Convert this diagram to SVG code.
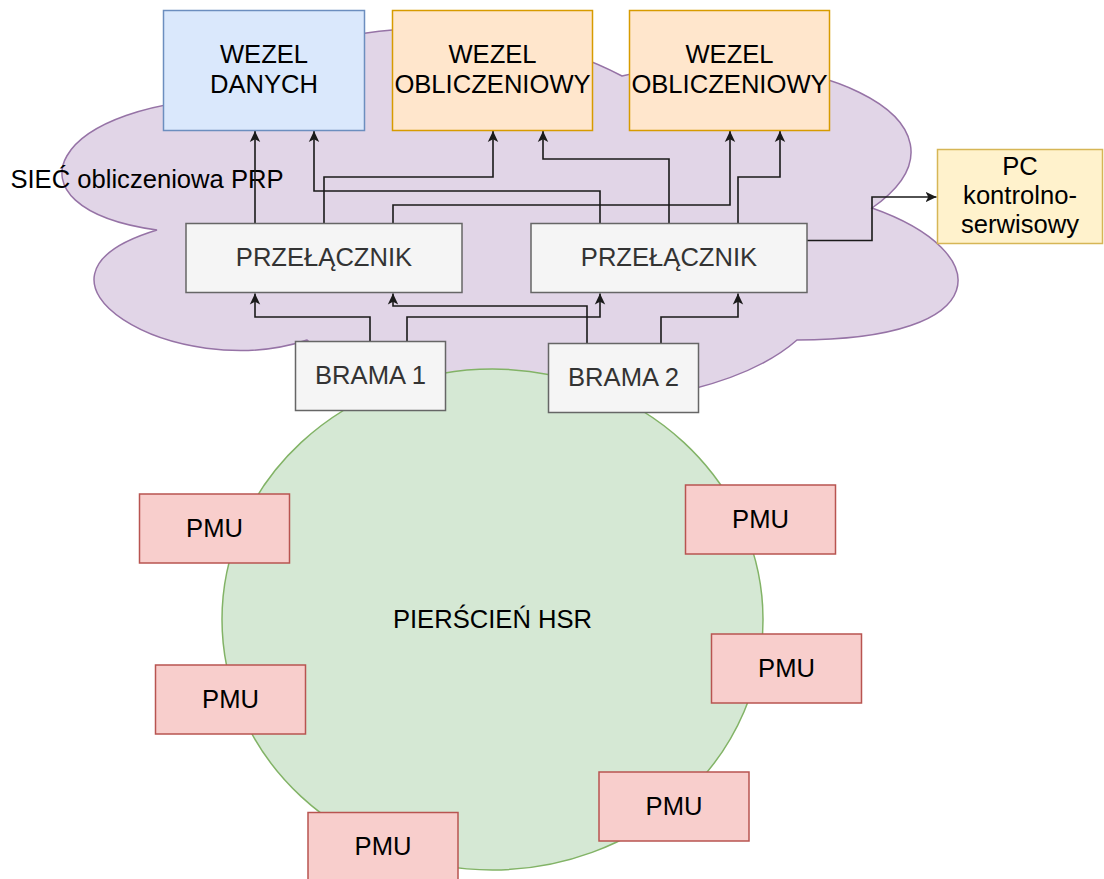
<svg xmlns="http://www.w3.org/2000/svg" width="1104" height="879" viewBox="0 0 1104 879">
  <style>
    text { font-family: "Liberation Sans", Arial, sans-serif; font-size: 25.6px; text-anchor: middle; fill: #000000; }
    .gray text { fill: #333333; }
    .data { fill: #dae8fc; stroke: #6c8ebf; stroke-width: 1.5; }
    .comp { fill: #ffe6cc; stroke: #d79b00; stroke-width: 1.5; }
    .pc { fill: #fff2cc; stroke: #d6b656; stroke-width: 1.5; }
    .sw { fill: #f5f5f5; stroke: #666666; stroke-width: 1.5; }
    .pmu { fill: #f8cecc; stroke: #b85450; stroke-width: 1.5; }
    .edge { fill: none; stroke: #1a1a1a; stroke-width: 1.6; marker-end: url(#arrow); }
  </style>
  <defs>
    <marker id="arrow" viewBox="0 0 12 12" refX="11" refY="6" markerWidth="12" markerHeight="12" markerUnits="userSpaceOnUse" orient="auto">
      <path d="M11,6 L0,0.8 L2.8,6 L0,11.2 Z" fill="#1a1a1a"/>
    </marker>
  </defs>

  <rect width="1104" height="879" fill="#ffffff"/>

  <!-- PRP network cloud -->
  <g id="cloud">
    <path d="M247,98 C47,98 -3,208 157,230 C-3,278.4 177,384 307,340 C397,428 697,428 797,340 C997,340 997,252 872,208 C997,120 797,32 622,76 C497,10 297,10 247,98 Z" fill="#e1d5e7" stroke="#9673a6" stroke-width="1.5"/>
    <text x="147" y="188">SIEĆ obliczeniowa PRP</text>
  </g>

  <!-- HSR ring -->
  <g id="ring">
    <ellipse cx="492.5" cy="619.5" rx="270.5" ry="250.5" fill="#d5e8d4" stroke="#82b366" stroke-width="1.5"/>
    <text x="492.5" y="628">PIERŚCIEŃ HSR</text>
  </g>

  <!-- connectors -->
  <g id="connectors">
    <polyline class="edge" points="255,223 255,131"/>
    <polyline class="edge" points="600,223 600,191 314,191 314,131"/>
    <polyline class="edge" points="324,223 324,177 493,177 493,131"/>
    <polyline class="edge" points="393,223 393,205 730,205 730,131"/>
    <polyline class="edge" points="669,223 669,159 543,159 543,131"/>
    <polyline class="edge" points="738,223 738,177 780,177 780,131"/>
    <polyline class="edge" points="807,240.5 872,240.5 872,197 936.5,197"/>
    <polyline class="edge" points="370,341 370,317 255,317 255,293.5"/>
    <polyline class="edge" points="407,341 407,317 600,317 600,293.5"/>
    <polyline class="edge" points="587,343 587,306 393,306 393,293.5"/>
    <polyline class="edge" points="661,343 661,317 738,317 738,293.5"/>
  </g>

  <!-- top nodes -->
  <g id="wezel-danych">
    <rect class="data" x="163.5" y="10.5" width="201" height="120"/>
    <text x="264" y="63">WEZEL</text>
    <text x="264" y="93">DANYCH</text>
  </g>
  <g id="wezel-obliczeniowy-1">
    <rect class="comp" x="392.5" y="10.5" width="200" height="120"/>
    <text x="492.5" y="63">WEZEL</text>
    <text x="492.5" y="93">OBLICZENIOWY</text>
  </g>
  <g id="wezel-obliczeniowy-2">
    <rect class="comp" x="629.5" y="10.5" width="200" height="120"/>
    <text x="729.5" y="63">WEZEL</text>
    <text x="729.5" y="93">OBLICZENIOWY</text>
  </g>
  <g id="pc">
    <rect class="pc" x="937.5" y="149.5" width="165" height="94"/>
    <text x="1020" y="175">PC</text>
    <text x="1020" y="204">kontrolno-</text>
    <text x="1020" y="233">serwisowy</text>
  </g>

  <!-- switches -->
  <g id="przelacznik-1" class="gray">
    <rect class="sw" x="186" y="223.5" width="276" height="69"/>
    <text x="324" y="266">PRZEŁĄCZNIK</text>
  </g>
  <g id="przelacznik-2" class="gray">
    <rect class="sw" x="531" y="223.5" width="276" height="69"/>
    <text x="669" y="266">PRZEŁĄCZNIK</text>
  </g>

  <!-- gateways -->
  <g id="brama-1" class="gray">
    <rect class="sw" x="295.5" y="341.5" width="150" height="69"/>
    <text x="370.5" y="384">BRAMA 1</text>
  </g>
  <g id="brama-2" class="gray">
    <rect class="sw" x="548.5" y="343.5" width="150" height="69"/>
    <text x="623.5" y="386">BRAMA 2</text>
  </g>

  <!-- PMUs -->
  <g id="pmu-1">
    <rect class="pmu" x="139.5" y="494" width="150" height="69"/>
    <text x="214.5" y="537">PMU</text>
  </g>
  <g id="pmu-2">
    <rect class="pmu" x="685.5" y="485" width="150" height="69"/>
    <text x="760.5" y="528">PMU</text>
  </g>
  <g id="pmu-3">
    <rect class="pmu" x="155.5" y="665" width="150" height="69"/>
    <text x="230.5" y="708">PMU</text>
  </g>
  <g id="pmu-4">
    <rect class="pmu" x="711.5" y="634" width="150" height="69"/>
    <text x="786.5" y="677">PMU</text>
  </g>
  <g id="pmu-5">
    <rect class="pmu" x="599" y="772" width="150" height="69"/>
    <text x="674" y="815">PMU</text>
  </g>
  <g id="pmu-6">
    <rect class="pmu" x="308" y="812.5" width="150" height="69"/>
    <text x="383" y="855">PMU</text>
  </g>
</svg>
